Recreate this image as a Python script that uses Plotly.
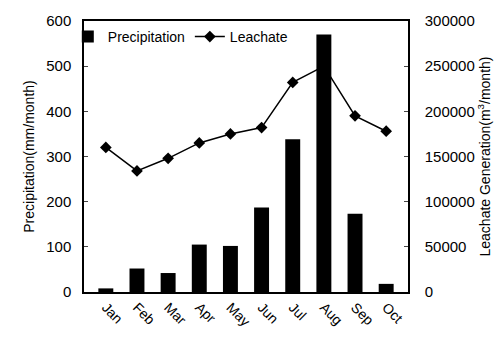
import plotly.graph_objects as go

months = ["Jan", "Feb", "Mar", "Apr", "May", "Jun", "Jul", "Aug", "Sep", "Oct"]
precipitation = [8, 52, 42, 105, 102, 187, 338, 570, 173, 18]
leachate = [160000, 134000, 148000, 165000, 175000, 182000, 232000, 250000, 195000, 178000]

font = dict(family="Liberation Sans, Arial, sans-serif", size=14, color="black")

fig = go.Figure()
fig.add_trace(go.Bar(x=months, y=precipitation, name="Precipitation",
                     marker=dict(color="black", line=dict(width=0)), width=0.48, yaxis="y"))
fig.add_trace(go.Scatter(x=months, y=leachate, name="Leachate", mode="lines+markers",
                         line=dict(color="black", width=1.5),
                         marker=dict(symbol="diamond", size=9, color="black"), yaxis="y2"))

fig.update_layout(
    width=504, height=347,
    margin=dict(l=84, r=96, t=19, b=55),
    plot_bgcolor="white", paper_bgcolor="white",
    font=font,
    showlegend=True,
    legend=dict(orientation="h", x=-0.05, y=1.0, xanchor="left", yanchor="top",
                bgcolor="rgba(0,0,0,0)", font=dict(size=14), itemwidth=30,
                tracegroupgap=0),
    xaxis=dict(tickangle=45, showline=True, linecolor="black", linewidth=1.5,
               mirror=True, ticks="", tickfont=dict(size=14)),
    yaxis=dict(range=[0, 600], dtick=100, showline=True, linecolor="black", linewidth=1.5,
               ticks="inside", ticklen=4, showgrid=False, zeroline=False,
               tickfont=dict(size=15), ticklabelstandoff=8,
               title=dict(text="Precipitation(mm/month)", font=dict(size=14), standoff=8)),
    yaxis2=dict(range=[0, 300000], dtick=50000, tickformat="d", overlaying="y", side="right",
                showline=True, linecolor="black", linewidth=1.5,
                ticks="inside", ticklen=4, showgrid=False, zeroline=False,
                tickfont=dict(size=15), ticklabelstandoff=12,
                title=dict(text="Leachate Generation(m<sup>3</sup>/month)", font=dict(size=14), standoff=6)),
)

fig.write_html("out.html")
